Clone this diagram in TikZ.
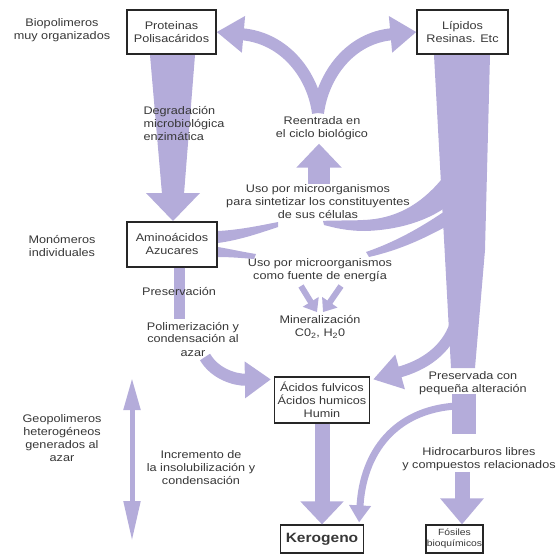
\documentclass[tikz,border=0pt]{standalone}
\usepackage{fontspec}
\setmainfont[FakeStretch=1.15]{Liberation Sans}
\usepackage{tikz}
\usetikzlibrary{arrows.meta,positioning}
\definecolor{lav}{RGB}{180,172,218}
\definecolor{ink}{RGB}{55,55,55}
\tikzset{
  box/.style={draw=black!85, line width=1.2pt, rectangle, inner sep=0pt, align=center, text=ink},
  lbl/.style={align=center, text=ink},
  band/.style={fill=lav, draw=none},
  blk/.style={draw=lav, line width=#1},
}

\begin{document}
\begin{tikzpicture}[x=1pt, y=-1pt, font=\fontsize{11}{13}\selectfont]
        \useasboundingbox (0,0) rectangle (557,554);

        \node[box, minimum width=89pt, minimum height=44pt] (prot) at (171.5,32) {Proteinas\\Polisacáridos};
        \node[box, minimum width=91pt, minimum height=44pt] (lip) at (462.5,32) {Lípidos\\Resinas. Etc};
        \node[box, minimum width=90pt, minimum height=45pt] (amino) at (172,244.5) {Aminoácidos\\Azucares};
        \node[box, minimum width=95pt, minimum height=46pt] (acidos) at (322,400) {Ácidos fulvicos\\Ácidos humicos\\Humin};
        \node[box, minimum width=83pt, minimum height=28pt, font=\fontsize{13.5}{15}\selectfont\bfseries] (kero) at (322,539) {Kerogeno};
        \node[box, minimum width=57pt, minimum height=28pt, font=\fontsize{9}{11}\selectfont] (fosil) at (454.5,539) {Fósiles\\bioquímicos};

        \node[lbl] (bio) at (62,30) {Biopolimeros\\muy organizados};
        \node[lbl] (mono) at (62,246) {Monómeros\\individuales};
        \node[lbl] (geo) at (62,438) {Geopolimeros\\heterogéneos\\generados al\\azar};
        \node[lbl] (incr) at (201,468) {Incremento de\\la insolubilización y\\condensación};
        \node[lbl] (reent) at (322,128.5) {Reentrada en\\el ciclo biológico};
        \node[lbl] (sint) at (318,202) {Uso por microorganismos\\para sintetizar los constituyentes\\de sus células};
        \node[lbl] (energ) at (320,270) {Uso por microorganismos\\como fuente de energía};
        \node[lbl] (miner) at (320,327) {Mineralización\\C0\textsubscript{2}, H\textsubscript{2}0};
        \node[lbl] (polim) at (193,339) {Polimerización y\\condensación al\\azar};
        \node[lbl] (presalt) at (473,383) {Preservada con\\pequeña alteración};
        \node[lbl] (hidro) at (479,459) {Hidrocarburos libres\\y compuestos relacionados};

        \fill[band] (150,55) -- (195,55) -- (184,194) -- (162,194) -- cycle;
        \fill[band] (146,193) -- (200,193) -- (173,221) -- cycle;
        \fill[band] (434,55) -- (490,55) -- (485,250) -- (475,368) -- (451,368) -- cycle;
        \fill[band] (441,180) .. controls (420,205) and (395,219) .. (363,220) .. controls (345,221) and (333,220) .. (323,221)
            -- (324,225) .. controls (335,228) and (348,231) .. (365,231) .. controls (400,230) and (428,220) .. (446,207) -- cycle;
        \fill[band] (445,211) .. controls (420,228) and (395,242) .. (366,252) -- (369,257) .. controls (400,250) and (425,238) .. (447,226) -- cycle;
        \fill[band] (218,231) .. controls (238,230) and (258,226) .. (278,222) -- (278,227) .. controls (260,233) and (240,240) .. (218,243) -- cycle;
        \fill[band] (218,247) .. controls (230,249) and (243,252) .. (256,254) -- (254,259) .. controls (242,258) and (230,257) .. (218,257) -- cycle;
        \fill[band] (452,394) rectangle (476,434);

        \coordinate (yj) at (318,113);
        \coordinate (hid) at (462,472);
        \coordinate (up) at (132,378);
        \coordinate (dn) at (132,541);

        \draw[blk=12pt, -{Triangle[width=35pt,length=27pt]}] (yj) .. controls (313,75) and (285,38) .. (prot.east);
        \draw[blk=12pt, -{Triangle[width=35pt,length=26pt]}] (yj) .. controls (323,75) and (350,38) .. (lip.west);
        \draw[blk=22pt, -{Triangle[width=44pt,length=24pt]}] ([shift={(-3,40)}]reent.south) -- ([shift={(-3,0)}]reent.south);
        \draw[blk=6pt, -{Triangle[width=18pt,length=12pt]}] (301,286) -- ([shift={(-3,0)}]miner.north);
        \draw[blk=6pt, -{Triangle[width=18pt,length=12pt]}] (341,286) -- ([shift={(3,0)}]miner.north);
        \draw[blk=11pt] ([shift={(7,0)}]amino.south) -- ++(0,51);
        \draw[blk=12pt, -{Triangle[width=35pt,length=26pt]}] (205,357) .. controls (215,374) and (235,380) .. ([shift={(-3,3)}]acidos.north west);
        \draw[blk=11pt, -{Triangle[width=34pt,length=28pt]}] (455,325) .. controls (446,350) and (425,365) .. ([shift={(3,3)}]acidos.north east);
        \draw[blk=15pt, -{Triangle[width=42pt,length=23pt]}] (acidos.south) -- (kero.north);
        \draw[blk=7pt, -{Triangle[width=21pt,length=17pt]}] (456,406) .. controls (395,410) and (363,452) .. ([shift={(-5,-2)}]kero.north east);
        \draw[blk=15pt, -{Triangle[width=42pt,length=26pt]}] (hid) -- (hid |- fosil.north);
        \draw[blk=5pt, {Triangle[width=16pt,length=32pt]}-{Triangle[width=16pt,length=40pt]}] (up) -- (dn);

        \node[lbl, anchor=west, align=left] (degr) at (140,123.5) {Degradación\\microbiológica\\enzimática};
        \node[lbl] (preserv) at (179,292) {Preservación};
    \end{tikzpicture}
\end{document}
